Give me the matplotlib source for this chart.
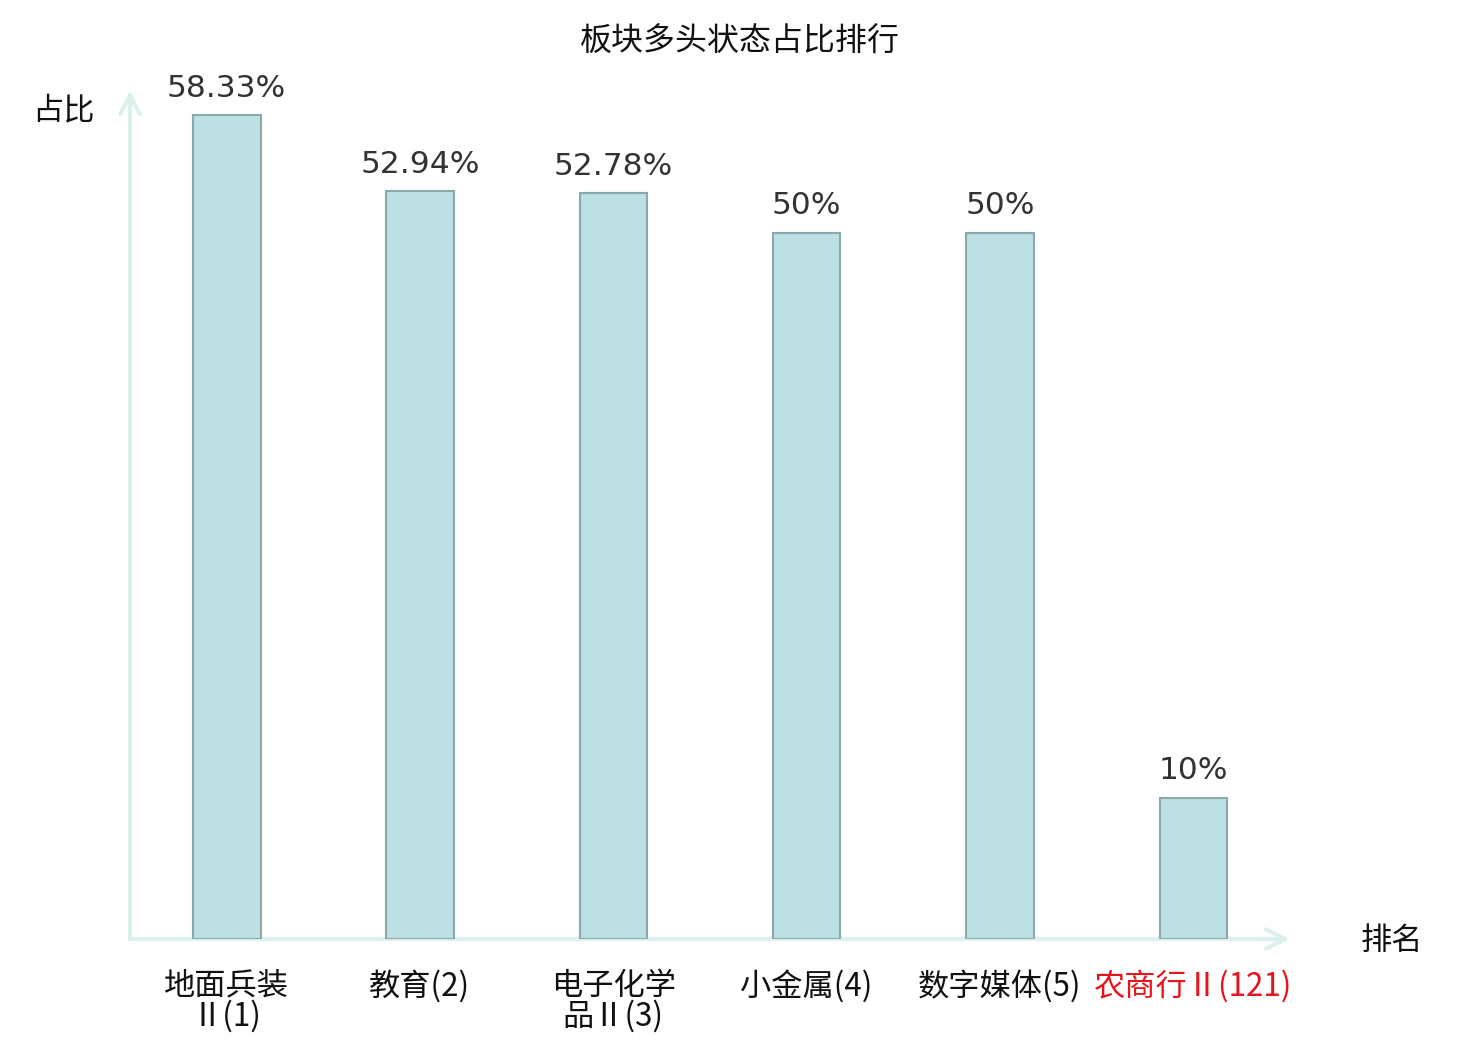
import matplotlib
matplotlib.use("Agg")
import matplotlib.pyplot as plt

plt.rcParams['font.family'] = ['Noto Sans CJK SC', 'DejaVu Sans']

# data
sectors = ["地面兵装\nⅡ(1)", "教育(2)", "电子化学\n品Ⅱ(3)", "小金属(4)", "数字媒体(5)", "农商行Ⅱ(121)"]
ratios = [58.33, 52.94, 52.78, 50, 50, 10]
highlight = [False, False, False, False, False, True]

bar_color = "#bce0e3"
edge_color = "#8aa9a9"
axis_color = "#dcf1ee"

fig = plt.figure(figsize=(14.8, 10.4), dpi=100)
ax = fig.add_axes([130 / 1480, 101 / 1040, 1160 / 1480, 849 / 1040])

x = list(range(len(sectors)))
bars = ax.bar(x, ratios, width=0.35, color=bar_color, edgecolor=edge_color, linewidth=1.5, zorder=3)
ax.bar_label(bars, labels=[f"{v:g}%" for v in ratios], padding=9,
             fontsize=22.5, color="#333333", family="DejaVu Sans")

ax.set_xlim(-0.5, 5.5)
ax.set_ylim(0, 60.1)
for s in ax.spines.values():
    s.set_visible(False)
ax.set_yticks([])
ax.set_xticks(x)
ax.set_xticklabels(sectors, fontsize=22.5, linespacing=0.95)
ax.tick_params(axis='x', length=0, pad=22)
for lab, hl in zip(ax.get_xticklabels(), highlight):
    lab.set_color("#e8141b" if hl else "#111111")

# axes drawn as arrows
arrow = dict(arrowstyle="->", color=axis_color, lw=3, mutation_scale=35, shrinkA=0, shrinkB=0)
ax.annotate("", xy=(0, 1), xytext=(0, 0), xycoords="axes fraction", arrowprops=arrow, zorder=1)
ax.annotate("", xy=(1, 0), xytext=(0, 0), xycoords="axes fraction", arrowprops=arrow, zorder=1)

fig.text(63 / 1480, 1 - 110 / 1040, "占比", fontsize=22.5, ha="center", va="center", color="#111111")
fig.text(1392 / 1480, 1 - 941 / 1040, "排名", fontsize=22.5, ha="center", va="center", color="#111111")
fig.text(0.5, 1 - 42 / 1040, "板块多头状态占比排行", fontsize=23, ha="center", va="center", color="#111111")

fig.savefig("out.png", dpi=100)
